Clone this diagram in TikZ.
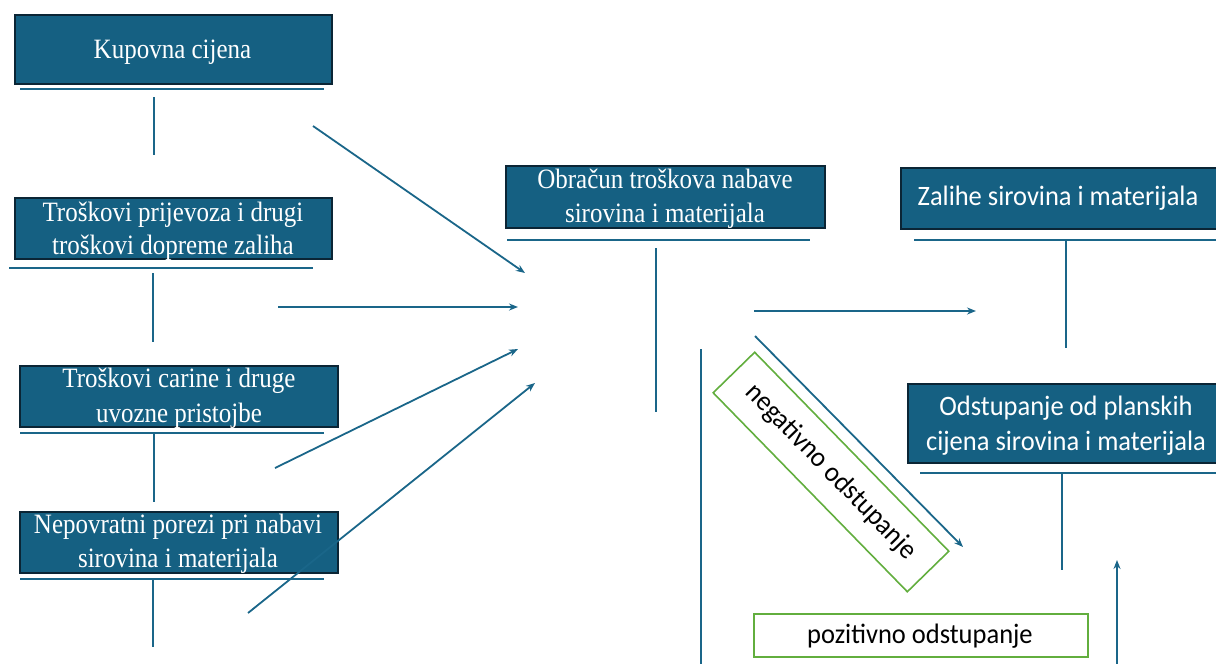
\documentclass[tikz,border=0pt]{standalone}
\usepackage{fontspec}
\usepackage{graphicx}
\setmainfont{Liberation Serif}
\newfontfamily\carl{Carlito}
\usetikzlibrary{arrows.meta}
\definecolor{boxfill}{HTML}{156082}
\definecolor{boxedge}{HTML}{0B2535}
\definecolor{conn}{HTML}{1A6689}
\definecolor{grn}{HTML}{62AE3E}
\newcommand\stretchser[1]{\scalebox{1}[1.12]{#1}}
\newcommand\stretchsan[1]{\scalebox{1}[1.06]{#1}}
\tikzset{
 box/.style={draw=boxedge, line width=1.6pt, fill=boxfill, inner sep=0pt, anchor=north west},
 ser/.style={font=\fontsize{25}{30}\selectfont, text=white, inner sep=0pt, anchor=base},
 san/.style={font=\carl\fontsize{26.5}{32}\selectfont, text=white, inner sep=0pt, anchor=base},
 uline/.style={draw=conn, line width=2.4pt},
 conline/.style={draw=conn, line width=1.8pt},
 arr/.style={conline, -{Stealth[length=9pt,width=7pt]}},
 gbox/.style={draw=grn, line width=1.6pt, fill=white, inner sep=0pt},
}
\begin{document}
\begin{tikzpicture}[x=1pt,y=-1pt]
\useasboundingbox (0,0) rectangle (1216,664);
\clip (0,0) rectangle (1216,664);
% boxes
\node[box, minimum width=317pt, minimum height=69pt] (b1) at (14,14) {};
\node[box, minimum width=317pt, minimum height=61pt] (b2) at (14,197) {};
\node[box, minimum width=318pt, minimum height=61pt] (b3) at (19,365) {};
\node[box, minimum width=318pt, minimum height=61pt] (b4) at (19,511) {};
\node[box, minimum width=319pt, minimum height=62pt] (b5) at (505,165) {};
\node[box, minimum width=318pt, minimum height=61pt] (b6) at (900,167) {};
\node[box, minimum width=315pt, minimum height=79pt] (b7) at (907,383) {};
\node[gbox, anchor=north west, minimum width=334pt, minimum height=43pt] (b8) at (753,613) {};
\node[gbox, minimum width=278pt, minimum height=58pt, rotate=-45.7, font=\carl\fontsize{26.5}{32}\selectfont, text=black] (neg) at (831,472) {\stretchsan{negativno odstupanje}};
% texts
\node[ser] (t1) at (172.5,58) {\stretchser{Kupovna cijena}};
\node[ser] (t2a) at (173,221) {\stretchser{Troškovi prijevoza i drugi}};
\node[ser] (t2b) at (173,254) {\stretchser{troškovi dopreme zaliha}};
\node[ser] (t3a) at (179,387) {\stretchser{Troškovi carine i druge}};
\node[ser] (t3b) at (179,422) {\stretchser{uvozne pristojbe}};
\node[ser] (t4a) at (178,533) {\stretchser{Nepovratni porezi pri nabavi}};
\node[ser] (t4b) at (178,567) {\stretchser{sirovina i materijala}};
\node[ser] (t5a) at (665,188) {\stretchser{Obračun troškova nabave}};
\node[ser] (t5b) at (665,222) {\stretchser{sirovina i materijala}};
\node[san] (t6) at (1058,205) {\stretchsan{Zalihe sirovina i materijala}};
\node[san] (t7a) at (1066,415) {\stretchsan{Odstupanje od planskih}};
\node[san] (t7b) at (1066,450) {\stretchsan{cijena sirovina i materijala}};
\node[san, text=black] (t8) at (920,643) {\stretchsan{pozitivno odstupanje}};
% underlines
\draw[uline] (20,89) coordinate (u1s) -- (324,89) coordinate (u1e);
\draw[uline] (9,268) coordinate (u2s) -- (313,268) coordinate (u2e);
\draw[uline] (20,433) coordinate (u3s) -- (324,433) coordinate (u3e);
\draw[uline] (20,579) coordinate (u4s) -- (324,579) coordinate (u4e);
\draw[uline] (507,240) coordinate (u5s) -- (810,240) coordinate (u5e);
\draw[uline] (914,240) coordinate (u6s) -- (1216,240) coordinate (u6e);
\draw[uline] (920,473) coordinate (u7s) -- (1216,473) coordinate (u7e);
% vertical lines
\draw[conline] (154,97) coordinate (v1s) -- (154,155) coordinate (v1e);
\draw[conline] (153,273) coordinate (v2s) -- (153,342) coordinate (v2e);
\draw[conline] (154,433) coordinate (v3s) -- (154,502) coordinate (v3e);
\draw[conline] (153,579) coordinate (v4s) -- (153,647) coordinate (v4e);
\draw[conline] (656,248) coordinate (v5s) -- (656,412) coordinate (v5e);
\draw[conline] (1066,240) coordinate (v6s) -- (1066,348) coordinate (v6e);
\draw[conline] (1062,473) coordinate (v7s) -- (1062,570) coordinate (v7e);
\draw[conline] (701,349) coordinate (v8s) -- (701,664) coordinate (v8e);
% arrows
\draw[arr] (313,126) coordinate (a1s) -- (525,273) coordinate (a1e);
\draw[arr] (278,307) coordinate (a2s) -- (518,307) coordinate (a2e);
\draw[arr] (275,468) coordinate (a3s) -- (518,349) coordinate (a3e);
\draw[arr] (248,613) coordinate (a4s) -- (535,383) coordinate (a4e);
\draw[arr] (754,311) coordinate (a5s) -- (976,311) coordinate (a5e);
\draw[arr] (755,336) coordinate (a6s) -- (963,547) coordinate (a6e);
\draw[arr] (1117,670) coordinate (a7s) -- (1117,560) coordinate (a7e);
\end{tikzpicture}
\end{document}
